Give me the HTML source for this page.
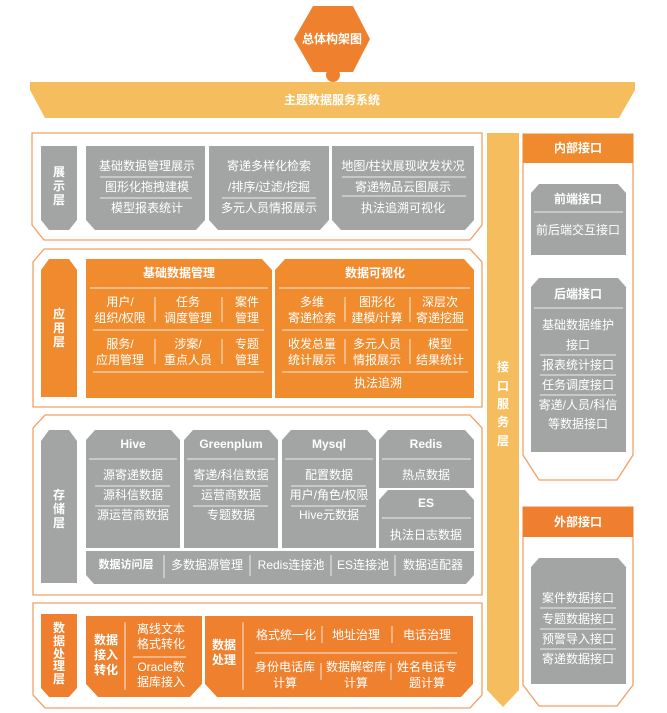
<!DOCTYPE html>
<html><head><meta charset="utf-8"><style>
html,body{margin:0;padding:0;background:#fff;}
svg{display:block;font-family:"Liberation Sans","Noto Sans CJK SC",sans-serif;}
.w{fill:#fff;font-size:12px;text-anchor:middle;dominant-baseline:central;}
.b{font-weight:bold;}
.s{font-size:11px;}
.ln{stroke:#fff;stroke-width:1;opacity:.8;}
</style></head><body>
<svg width="667" height="713" viewBox="0 0 667 713" xmlns="http://www.w3.org/2000/svg">
<polygon points="313,6 353,6 370,39 353,72 313,72 294,39" fill="#ef812e"/>
<circle cx="333" cy="75" r="7" fill="#ef812e"/>
<text class="w b" x="332" y="39" font-size="12">总体构架图</text>
<polygon points="30,82 635,82 635,90 619,118 45,118 30,90" fill="#f6bd5e"/>
<text class="w b" x="332" y="100" font-size="13">主题数据服务系统</text>

<g fill="#fff" stroke="#f2a066" stroke-width="1.3">
<polygon points="32,133 482,133 482,225 470,240 44,240 32,225"/>
<polygon points="44,249 470,249 482,262 482,407 33,407 33,262"/>
<polygon points="45,415 470,415 482,428 482,595 33,595 33,428"/>
<polygon points="33,603 482,603 482,695 470,708 45,708 33,695"/>
<polygon points="523,134 633,134 633,455 617,480 539,480 523,455"/>
<polygon points="523,507 633,507 633,685 617,706 539,706 523,685"/>
</g>

<polygon points="487,133 519,133 519,690 503,707 487,690" fill="#f6bd5e"/>
<text class="w b" x="503" y="367" font-size="15">接</text>
<text class="w b" x="503" y="386" font-size="15">口</text>
<text class="w b" x="503" y="404" font-size="15">服</text>
<text class="w b" x="503" y="422" font-size="15">务</text>
<text class="w b" x="503" y="441" font-size="15">层</text>

<polygon points="41,146 77,146 77,220 69,230 49,230 41,220" fill="#a3a4a4"/>
<text class="w b" x="59" y="172">展</text><text class="w b" x="59" y="186">示</text><text class="w b" x="59" y="200">层</text>
<g fill="#a3a4a4">
<polygon points="86,146 205,146 205,220 196,230 95,230 86,220"/>
<polygon points="209,146 329,146 329,220 320,230 218,230 209,220"/>
<polygon points="332,146 474,146 474,220 465,230 341,230 332,220"/>
</g>
<text class="w" x="147" y="166">基础数据管理展示</text>
<line class="ln" x1="100" y1="177" x2="192" y2="177"/>
<text class="w" x="147" y="187">图形化拖拽建模</text>
<line class="ln" x1="100" y1="198" x2="192" y2="198"/>
<text class="w" x="147" y="208">模型报表统计</text>
<text class="w" x="269" y="166">寄递多样化检索</text>
<text class="w" x="269" y="187">/排序/过滤/挖掘</text>
<line class="ln" x1="222" y1="198" x2="316" y2="198"/>
<text class="w" x="269" y="208">多元人员情报展示</text>
<text class="w" x="403" y="166">地图/柱状展现收发状况</text>
<line class="ln" x1="342" y1="177" x2="466" y2="177"/>
<text class="w" x="403" y="187">寄递物品云图展示</text>
<line class="ln" x1="342" y1="196" x2="466" y2="196"/>
<text class="w" x="403" y="208">执法追溯可视化</text>

<polygon points="49,259 69,259 77,270 77,397 41,397 41,270" fill="#ef8a2f"/>
<text class="w b" x="59" y="314">应</text><text class="w b" x="59" y="328">用</text><text class="w b" x="59" y="342">层</text>
<g fill="#f08c2e">
<polygon points="86,259 262,259 272,270 272,398 86,398"/>
<polygon points="285,259 464,259 474,270 474,398 275,398 275,270"/>
</g>
<text class="w b" x="179" y="273">基础数据管理</text>
<line class="ln" x1="90" y1="288" x2="268" y2="288"/>
<text class="w" x="120" y="302">用户/</text><text class="w" x="120" y="318">组织/权限</text>
<text class="w" x="188" y="302">任务</text><text class="w" x="188" y="318">调度管理</text>
<text class="w" x="247" y="302">案件</text><text class="w" x="247" y="318">管理</text>
<line class="ln" x1="155" y1="297" x2="155" y2="322"/><line class="ln" x1="222" y1="297" x2="222" y2="322"/>
<line class="ln" x1="93" y1="330" x2="264" y2="330"/>
<text class="w" x="120" y="344">服务/</text><text class="w" x="120" y="360">应用管理</text>
<text class="w" x="188" y="344">涉案/</text><text class="w" x="188" y="360">重点人员</text>
<text class="w" x="247" y="344">专题</text><text class="w" x="247" y="360">管理</text>
<line class="ln" x1="155" y1="339" x2="155" y2="364"/><line class="ln" x1="222" y1="339" x2="222" y2="364"/>
<line class="ln" x1="93" y1="372" x2="264" y2="372"/>

<text class="w b" x="375" y="273">数据可视化</text>
<line class="ln" x1="279" y1="288" x2="470" y2="288"/>
<text class="w" x="312" y="302">多维</text><text class="w" x="312" y="318">寄递检索</text>
<text class="w" x="377" y="302">图形化</text><text class="w" x="377" y="318">建模/计算</text>
<text class="w" x="440" y="302">深层次</text><text class="w" x="440" y="318">寄递挖掘</text>
<line class="ln" x1="345" y1="297" x2="345" y2="322"/><line class="ln" x1="410" y1="297" x2="410" y2="322"/>
<line class="ln" x1="282" y1="330" x2="468" y2="330"/>
<text class="w" x="312" y="344">收发总量</text><text class="w" x="312" y="360">统计展示</text>
<text class="w" x="377" y="344">多元人员</text><text class="w" x="377" y="360">情报展示</text>
<text class="w" x="440" y="344">模型</text><text class="w" x="440" y="360">结果统计</text>
<line class="ln" x1="345" y1="339" x2="345" y2="364"/><line class="ln" x1="410" y1="339" x2="410" y2="364"/>
<line class="ln" x1="282" y1="372" x2="468" y2="372"/>
<text class="w" x="378" y="383">执法追溯</text>

<polygon points="49,430 69,430 77,441 77,583 41,583 41,441" fill="#a3a4a4"/>
<text class="w b" x="59" y="495">存</text><text class="w b" x="59" y="509">储</text><text class="w b" x="59" y="523">层</text>
<g fill="#a3a4a4">
<polygon points="95,430 171,430 180,440 180,548 86,548 86,440"/>
<polygon points="193,430 269,430 278,440 278,548 184,548 184,440"/>
<polygon points="291,430 367,430 376,440 376,548 282,548 282,440"/>
<polygon points="388,430 465,430 474,440 474,488 379,488 379,440"/>
<polygon points="388,490 465,490 474,500 474,548 379,548 379,500"/>
<polygon points="86,551 474,551 474,575 466,584 94,584 86,575"/>
</g>
<text class="w b" x="133" y="444">Hive</text>
<text class="w b" x="231" y="444">Greenplum</text>
<text class="w b" x="329" y="444">Mysql</text>
<text class="w b" x="426" y="444">Redis</text>
<line class="ln" x1="89" y1="459" x2="177" y2="459"/>
<line class="ln" x1="187" y1="459" x2="275" y2="459"/>
<line class="ln" x1="285" y1="459" x2="373" y2="459"/>
<line class="ln" x1="382" y1="459" x2="471" y2="459"/>
<text class="w" x="133" y="475">源寄递数据</text>
<line class="ln" x1="95" y1="486" x2="170" y2="486"/>
<text class="w" x="133" y="495">源科信数据</text>
<line class="ln" x1="95" y1="506" x2="170" y2="506"/>
<text class="w" x="133" y="515">源运营商数据</text>
<text class="w" x="231" y="475">寄递/科信数据</text>
<line class="ln" x1="193" y1="486" x2="268" y2="486"/>
<text class="w" x="231" y="495">运营商数据</text>
<line class="ln" x1="193" y1="506" x2="268" y2="506"/>
<text class="w" x="231" y="515">专题数据</text>
<text class="w" x="329" y="475">配置数据</text>
<line class="ln" x1="291" y1="486" x2="366" y2="486"/>
<text class="w" x="329" y="495">用户/角色/权限</text>
<line class="ln" x1="291" y1="506" x2="366" y2="506"/>
<text class="w" x="329" y="515">Hive元数据</text>
<text class="w" x="426" y="475">热点数据</text>
<text class="w b" x="426" y="503">ES</text>
<line class="ln" x1="382" y1="518" x2="471" y2="518"/>
<text class="w" x="426" y="535">执法日志数据</text>
<text class="w b s" x="126" y="565">数据访问层</text>
<line class="ln" x1="164" y1="555" x2="164" y2="578"/>
<text class="w" x="207" y="565">多数据源管理</text>
<line class="ln" x1="250" y1="555" x2="250" y2="576"/>
<text class="w" x="291" y="565">Redis连接池</text>
<line class="ln" x1="331" y1="555" x2="331" y2="576"/>
<text class="w" x="363" y="565">ES连接池</text>
<line class="ln" x1="395" y1="555" x2="395" y2="576"/>
<text class="w" x="433" y="565">数据适配器</text>

<polygon points="41,614 77,614 77,688 69,697 49,697 41,688" fill="#ef7f2f"/>
<text class="w b" x="59" y="628">数</text><text class="w b" x="59" y="641">据</text><text class="w b" x="59" y="654">处</text><text class="w b" x="59" y="666">理</text><text class="w b" x="59" y="679">层</text>
<g fill="#ef812e">
<polygon points="86,616 202,616 202,684 190,697 98,697 86,684"/>
<polygon points="205,616 473,616 473,684 461,697 217,697 205,684"/>
</g>
<text class="w b" x="106" y="640">数据</text><text class="w b" x="106" y="655">接入</text><text class="w b" x="106" y="670">转化</text>
<line class="ln" x1="125" y1="622" x2="125" y2="690"/>
<text class="w" x="161" y="629">离线文本</text><text class="w" x="161" y="644">格式转化</text>
<line class="ln" x1="133" y1="657" x2="186" y2="657"/>
<text class="w" x="161" y="667">Oracle数</text><text class="w" x="161" y="682">据库接入</text>
<text class="w b" x="224" y="645">数据</text><text class="w b" x="224" y="660">处理</text>
<line class="ln" x1="243" y1="622" x2="243" y2="690"/>
<text class="w" x="286" y="635">格式统一化</text>
<line class="ln" x1="322" y1="626" x2="322" y2="643"/>
<text class="w" x="356" y="635">地址治理</text>
<line class="ln" x1="392" y1="626" x2="392" y2="643"/>
<text class="w" x="427" y="635">电话治理</text>
<line class="ln" x1="255" y1="653" x2="457" y2="653"/>
<text class="w" x="285" y="667">身份电话库</text><text class="w" x="285" y="683">计算</text>
<line class="ln" x1="321" y1="663" x2="321" y2="680"/>
<text class="w" x="356" y="667">数据解密库</text><text class="w" x="356" y="683">计算</text>
<line class="ln" x1="391" y1="663" x2="391" y2="680"/>
<text class="w" x="427" y="667">姓名电话专</text><text class="w" x="427" y="683">题计算</text>

<rect x="523" y="134" width="110" height="29" fill="#f08a2e"/>
<text class="w b" x="578" y="148">内部接口</text>
<g fill="#a3a4a4">
<polygon points="539,184 618,184 626,193 626,255 531,255 531,193"/>
<polygon points="539,278 618,278 626,287 626,452 531,452 531,287"/>
<polygon points="539,558 618,558 626,567 626,684 531,684 531,567"/>
</g>
<text class="w b" x="578" y="199">前端接口</text>
<line class="ln" x1="534" y1="212" x2="623" y2="212"/>
<text class="w" x="578" y="230">前后端交互接口</text>
<text class="w b" x="578" y="294">后端接口</text>
<line class="ln" x1="534" y1="308" x2="623" y2="308"/>
<text class="w" x="578" y="325">基础数据维护</text>
<text class="w" x="578" y="345">接口</text>
<line class="ln" x1="540" y1="355" x2="616" y2="355"/>
<text class="w" x="578" y="365">报表统计接口</text>
<line class="ln" x1="540" y1="375" x2="616" y2="375"/>
<text class="w" x="578" y="385">任务调度接口</text>
<line class="ln" x1="540" y1="395" x2="616" y2="395"/>
<text class="w" x="578" y="405">寄递/人员/科信</text>
<text class="w" x="578" y="424">等数据接口</text>
<rect x="523" y="507" width="110" height="30" fill="#ef7f2f"/>
<text class="w b" x="578" y="522">外部接口</text>
<text class="w" x="578" y="598">案件数据接口</text>
<line class="ln" x1="540" y1="608" x2="616" y2="608"/>
<text class="w" x="578" y="619">专题数据接口</text>
<line class="ln" x1="540" y1="629" x2="616" y2="629"/>
<text class="w" x="578" y="639">预警导入接口</text>
<line class="ln" x1="540" y1="649" x2="616" y2="649"/>
<text class="w" x="578" y="659">寄递数据接口</text>
</svg>
</body></html>
